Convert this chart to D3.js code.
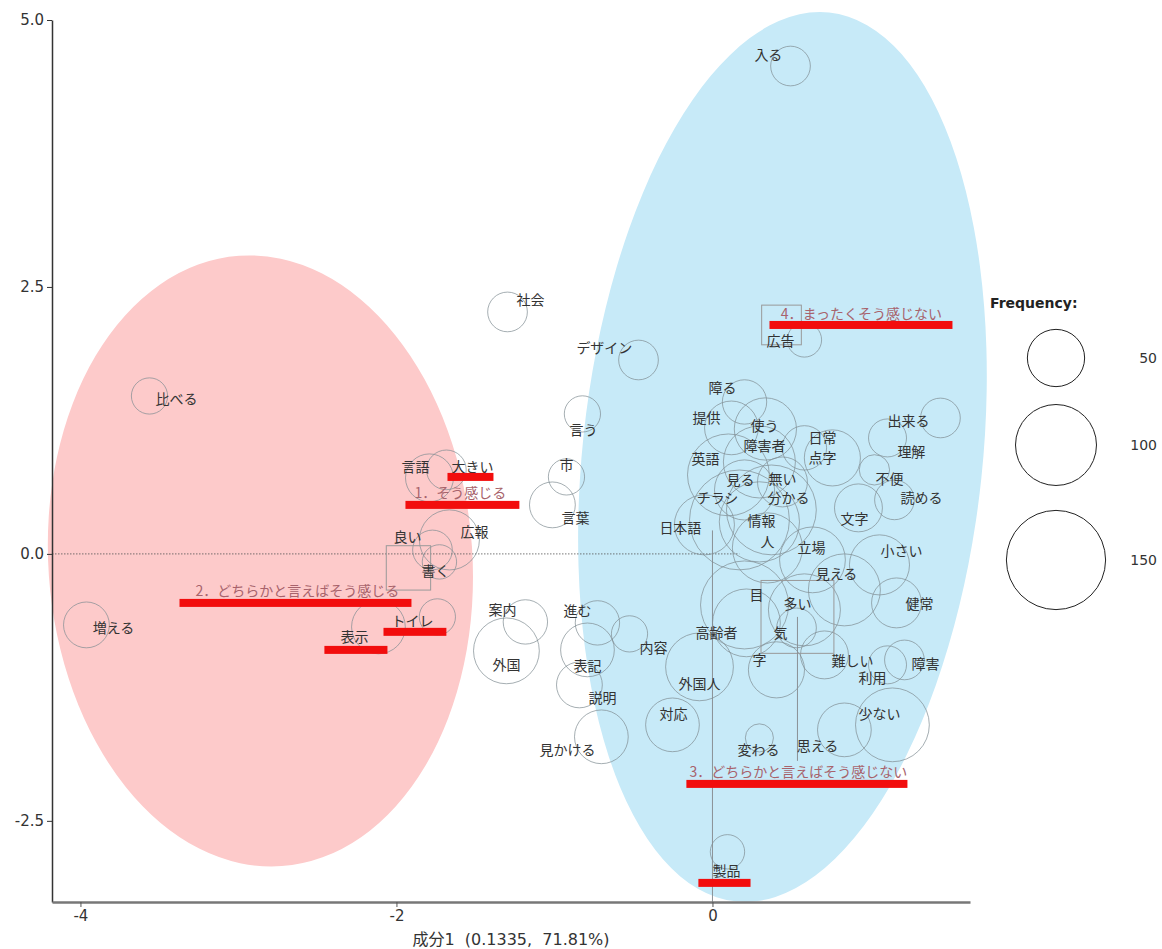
<!DOCTYPE html>
<html lang="ja">
  <head>
    <meta charset="utf-8">
    <title>対応分析</title>
    <script src="https://cdn.jsdelivr.net/npm/d3@7"></script>
    <style>
      body { margin: 0; background: #fff; }
    </style>
  </head>
  <body>
    <script type="text/javascript">
      // words (extracted terms), bubble position (component 1 / 2) and frequency
      var words = ["入る","社会","デザイン","言う","市","言葉","言語","大きい","良い","広報",
        "書く","比べる","増える","トイレ","表示","案内","外国","進む","表記","説明",
        "見かける","内容","高齢者","目","多い","気","字","難しい","利用","障害",
        "健常","少ない","思える","変わる","外国人","対応","製品","広告","障る","提供",
        "使う","障害者","日常","点字","英語","見る","無い","チラシ","分かる","情報",
        "日本語","人","立場","文字","出来る","理解","不便","読める","小さい","見える"];
      var wordX = [0.494,-1.297,-0.468,-0.823,-0.924,-1.013,-1.791,-1.684,-1.772,-1.665,
        -1.728,-3.563,-3.962,-1.741,-2.114,-1.184,-1.304,-0.728,-0.791,-0.842,
        -0.703,-0.525,0.215,0.203,0.582,0.532,0.405,0.709,1.108,1.215,
        1.165,1.139,0.835,0.297,-0.082,-0.253,0.095,0.582,0.203,0.120,
        0.335,0.297,0.759,0.582,0.101,0.203,0.443,0.171,0.373,0.297,
        -0.051,0.348,0.633,0.924,1.443,1.108,1.025,1.152,1.057,0.835];
      var wordY = [4.569,2.266,1.816,1.311,0.721,0.459,0.712,0.787,0.037,0.131,
        -0.075,1.479,-0.665,-0.590,-0.684,-0.637,-0.908,-0.646,-0.899,-1.227,
        -1.713,-0.749,-0.646,-0.478,-0.524,-0.693,-1.086,-0.946,-1.039,-0.993,
        -0.459,-1.601,-1.648,-1.723,-1.058,-1.601,-2.790,2.004,1.423,1.180,
        1.170,0.861,0.899,0.993,0.740,0.599,0.674,0.318,0.412,0.300,
        0.272,0.056,-0.056,0.431,1.273,1.086,0.787,0.506,-0.103,-0.337];
      var wordFreq = [24,24,24,20,20,32,35,24,24,55,
        18,20,32,20,44,30,66,30,44,32,
        44,20,70,118,79,24,48,35,22,24,
        38,83,44,12,70,44,18,18,30,44,
        59,79,48,30,102,55,38,152,123,98,
        55,75,66,35,24,22,14,24,55,79];
      // label positions after overlap adjustment
      var labelX = [0.354,-1.152,-0.684,-0.816,-0.924,-0.867,-1.880,-1.519,-1.930,-1.506,
        -1.753,-3.392,-3.791,-1.899,-2.266,-1.329,-1.304,-0.854,-0.791,-0.696,
        -0.918,-0.373,0.025,0.278,0.538,0.430,0.297,0.886,1.013,1.348,
        1.310,1.057,0.665,0.291,-0.082,-0.247,0.089,0.430,0.063,-0.038,
        0.329,0.329,0.696,0.696,-0.044,0.177,0.443,0.032,0.481,0.310,
        -0.203,0.348,0.627,0.899,1.241,1.259,1.120,1.323,1.196,0.785];
      var labelY = [4.682,2.388,1.938,1.170,0.843,0.346,0.824,0.824,0.169,0.215,
        -0.150,1.461,-0.684,-0.618,-0.768,-0.515,-1.030,-0.524,-1.039,-1.339,
        -1.826,-0.871,-0.730,-0.375,-0.459,-0.730,-0.983,-0.993,-1.152,-1.021,
        -0.459,-1.489,-1.788,-1.826,-1.208,-1.489,-2.959,2.004,1.564,1.283,
        1.208,1.021,1.096,0.908,0.899,0.702,0.712,0.534,0.534,0.318,
        0.253,0.122,0.066,0.337,1.255,0.964,0.712,0.534,0.037,-0.178];

      // outside variable (answer categories)
      var categories = ["1．そう感じる","2．どちらかと言えばそう感じる",
        "3．どちらかと言えばそう感じない","4．まったくそう感じない"];
      var catX = [null,-1.924,0.538,0.437];
      var catY = [null,-0.131,-0.590,2.144];
      var catFreq = [0,30,81,24];
      var catLabelX = [-1.595,-2.627,0.544,0.943];
      var catLabelY = [0.581,-0.337,-2.032,2.257];

      // cluster ellipses
      var clusterX = [-2.861, 0.443];
      var clusterY = [-0.066, 0.908];
      var clusterRx = [1.342, 1.266];
      var clusterRy = [2.865, 4.185];
      var clusterTilt = [-4, 6];
      var clusterColors = ["#fdcaca", "#c7eaf8"];

      // red highlight marks (x from, x to, y)
      var markX1 = [-1.677,-1.943,-3.373,-2.082,-2.456,0.361,-0.165,-0.089];
      var markX2 = [-1.386,-1.222,-1.905,-1.684,-2.057,1.519,1.234,0.241];
      var markY = [0.721,0.459,-0.459,-0.730,-0.899,2.144,-2.154,-3.081];

      var xTicks = [-4, -2, 0];
      var yTicks = [5.0, 2.5, 0.0, -2.5];
      var legendFreq = [50, 100, 150];

      "use strict";
      var width = 1162, height = 949;
      var jp = "'Noto Sans CJK JP', 'Noto Sans', sans-serif";
      var latin = "'DejaVu Sans', Verdana, 'Noto Sans CJK JP', sans-serif";

      var svg = d3.select("body")
        .append("svg")
          .attr("width", width)
          .attr("height", height);

      var x = d3.scaleLinear().domain([-4.18, 1.63]).range([52, 970]);
      var y = d3.scaleLinear().domain([-3.26, 5.0]).range([902, 20]);
      var r = d3.scaleSqrt().domain([0, 150]).range([0, 49.6]);

      // ellipses
      svg.selectAll("ellipse.cluster")
        .data(clusterX)
        .enter()
        .append("ellipse")
          .attr("class", "cluster")
          .attr("cx", function (d) { return x(d); })
          .attr("cy", function (d, i) { return y(clusterY[i]); })
          .attr("rx", function (d, i) { return x(d + clusterRx[i]) - x(d); })
          .attr("ry", function (d, i) { return y(clusterY[i]) - y(clusterY[i] + clusterRy[i]); })
          .attr("transform", function (d, i) {
            return "rotate(" + clusterTilt[i] + "," + x(d) + "," + y(clusterY[i]) + ")";
          })
          .style("fill", function (d, i) { return clusterColors[i]; });

      // origin lines
      svg.append("line")
        .attr("x1", x(-4.18)).attr("x2", x(0.17))
        .attr("y1", y(0)).attr("y2", y(0))
        .style("stroke", "#555").style("stroke-width", 0.8)
        .style("stroke-dasharray", "1.5,1.5");
      svg.append("line")
        .attr("x1", x(0)).attr("x2", x(0))
        .attr("y1", y(0.22)).attr("y2", y(-3.26))
        .style("stroke", "#8a9296").style("stroke-width", 1);

      // axes
      var yAxis = d3.axisLeft(y).tickValues(yTicks).tickSize(5).tickSizeOuter(0)
        .tickFormat(function (d) { return d.toFixed(1); });
      var gy = svg.append("g").attr("transform", "translate(52,0)").call(yAxis);
      gy.select(".domain").style("stroke", "#333").style("stroke-width", 1.5);
      gy.selectAll("text").style("font-family", latin)
        .style("font-size", "15px").style("fill", "#333");
      gy.selectAll("line").style("stroke", "#333");

      var xAxis = d3.axisBottom(x).tickValues(xTicks).tickSize(5).tickSizeOuter(0)
        .tickFormat(function (d) { return String(d); });
      var gx = svg.append("g").attr("transform", "translate(0,902)").call(xAxis);
      gx.select(".domain").style("stroke", "#777").style("stroke-width", 2.5);
      gx.selectAll("text").style("font-family", latin)
        .style("font-size", "15px").style("fill", "#333");
      gx.selectAll("line").style("stroke", "#555");

      svg.append("text")
        .attr("x", 511).attr("y", 945)
        .attr("text-anchor", "middle")
        .style("font-family", latin).style("font-size", "16px").style("fill", "#333")
        .style("white-space", "pre")
        .text("成分1  (0.1335,  71.81%)");

      // bubbles
      svg.selectAll("circle.word")
        .data(words)
        .enter()
        .append("circle")
          .attr("class", "word")
          .attr("cx", function (d, i) { return x(wordX[i]); })
          .attr("cy", function (d, i) { return y(wordY[i]); })
          .attr("r", function (d, i) { return r(wordFreq[i]); })
          .style("fill", "none")
          .style("stroke", "#7f8c92")
          .style("stroke-opacity", 0.7)
          .style("stroke-width", 1);

      // category squares and connector
      var catIdx = [1, 2, 3];
      svg.selectAll("rect.cat")
        .data(catIdx)
        .enter()
        .append("rect")
          .attr("class", "cat")
          .attr("x", function (i) { return x(catX[i]) - r(catFreq[i]); })
          .attr("y", function (i) { return y(catY[i]) - r(catFreq[i]); })
          .attr("width", function (i) { return 2 * r(catFreq[i]); })
          .attr("height", function (i) { return 2 * r(catFreq[i]); })
          .style("fill", "none")
          .style("stroke", "#999")
          .style("stroke-width", 1);
      svg.append("line")
        .attr("x1", x(catX[2])).attr("x2", x(catX[2]))
        .attr("y1", y(catY[2])).attr("y2", y(catLabelY[2]) - 10)
        .style("stroke", "#8a9296").style("stroke-width", 1);

      // word labels
      svg.selectAll("text.word")
        .data(words)
        .enter()
        .append("text")
          .attr("class", "word")
          .attr("x", function (d, i) { return x(labelX[i]); })
          .attr("y", function (d, i) { return y(labelY[i]); })
          .attr("text-anchor", "middle")
          .attr("dominant-baseline", "central")
          .style("font-family", jp)
          .style("font-size", "14px")
          .style("fill", "#333")
          .text(function (d) { return d; });

      // category labels
      svg.selectAll("text.cat")
        .data(categories)
        .enter()
        .append("text")
          .attr("class", "cat")
          .attr("x", function (d, i) { return x(catLabelX[i]); })
          .attr("y", function (d, i) { return y(catLabelY[i]); })
          .attr("text-anchor", "middle")
          .attr("dominant-baseline", "central")
          .style("font-family", jp)
          .style("font-size", "14px")
          .style("fill", "#a8636c")
          .text(function (d) { return d; });

      // red highlight marks
      svg.selectAll("rect.mark")
        .data(markX1)
        .enter()
        .append("rect")
          .attr("class", "mark")
          .attr("x", function (d) { return x(d); })
          .attr("y", function (d, i) { return y(markY[i]) - 4; })
          .attr("width", function (d, i) { return x(markX2[i]) - x(d); })
          .attr("height", 8)
          .style("fill", "#f20d0d");

      // legend
      svg.append("text")
        .attr("x", 990).attr("y", 308)
        .style("font-family", latin)
        .style("font-size", "14px").style("font-weight", "bold").style("fill", "#222")
        .text("Frequency:");
      var legendCy = [358, 445, 560];
      svg.selectAll("circle.legend")
        .data(legendFreq)
        .enter()
        .append("circle")
          .attr("class", "legend")
          .attr("cx", 1056)
          .attr("cy", function (d, i) { return legendCy[i]; })
          .attr("r", function (d) { return r(d); })
          .style("fill", "none").style("stroke", "#222").style("stroke-width", 1);
      svg.selectAll("text.legend")
        .data(legendFreq)
        .enter()
        .append("text")
          .attr("class", "legend")
          .attr("x", 1157)
          .attr("y", function (d, i) { return legendCy[i]; })
          .attr("text-anchor", "end")
          .attr("dominant-baseline", "central")
          .style("font-family", latin)
          .style("font-size", "14px").style("fill", "#333")
          .text(function (d) { return d; });
    </script>
  </body>
</html>
